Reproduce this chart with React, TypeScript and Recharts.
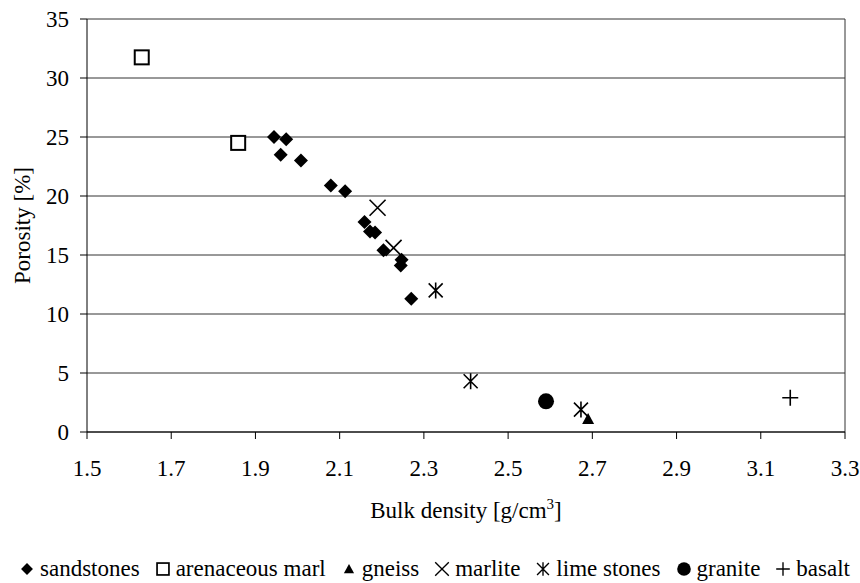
import React from "react";
import {
  ScatterChart,
  Scatter,
  XAxis,
  YAxis,
  CartesianGrid,
  ReferenceLine,
} from "recharts";

type Pt = { x: number; y: number };

const sandstones: Pt[] = [
  { x: 1.944, y: 25.0 },
  { x: 1.973, y: 24.8 },
  { x: 1.96, y: 23.5 },
  { x: 2.008, y: 23.0 },
  { x: 2.079, y: 20.9 },
  { x: 2.113, y: 20.4 },
  { x: 2.159, y: 17.8 },
  { x: 2.172, y: 17.0 },
  { x: 2.184, y: 16.9 },
  { x: 2.204, y: 15.4 },
  { x: 2.247, y: 14.6 },
  { x: 2.245, y: 14.1 },
  { x: 2.27, y: 11.3 },
];
const arenaceousMarl: Pt[] = [
  { x: 1.63, y: 31.75 },
  { x: 1.859, y: 24.5 },
];
const gneiss: Pt[] = [{ x: 2.69, y: 1.1 }];
const marlite: Pt[] = [
  { x: 2.19, y: 19.0 },
  { x: 2.228, y: 15.6 },
];
const limeStones: Pt[] = [
  { x: 2.328, y: 12.0 },
  { x: 2.411, y: 4.3 },
  { x: 2.673, y: 1.9 },
];
const granite: Pt[] = [{ x: 2.59, y: 2.6 }];
const basalt: Pt[] = [{ x: 3.17, y: 2.9 }];

const xTicks = [1.5, 1.7, 1.9, 2.1, 2.3, 2.5, 2.7, 2.9, 3.1, 3.3];
const yTicks = [0, 5, 10, 15, 20, 25, 30, 35];

const FONT = "Liberation Serif";
const FS = 23;

// marker shapes, drawn around cx/cy given by the scatter
const Diamond = ({ cx, cy }: any) => (
  <polygon
    points={`${cx},${cy - 7} ${cx + 7},${cy} ${cx},${cy + 7} ${cx - 7},${cy}`}
    fill="#000"
  />
);
const Square = ({ cx, cy }: any) => (
  <rect x={cx - 7} y={cy - 7} width={14} height={14} fill="#fff" stroke="#000" strokeWidth={2} />
);
const Triangle = ({ cx, cy }: any) => (
  <polygon
    points={`${cx},${cy - 6} ${cx + 6},${cy + 5} ${cx - 6},${cy + 5}`}
    fill="#000"
  />
);
const Cross = ({ cx, cy }: any) => (
  <path
    d={`M${cx - 8},${cy - 8}L${cx + 8},${cy + 8}M${cx + 8},${cy - 8}L${cx - 8},${cy + 8}`}
    stroke="#000"
    strokeWidth={1.6}
  />
);
const Star = ({ cx, cy }: any) => (
  <path
    d={`M${cx - 7},${cy - 7}L${cx + 7},${cy + 7}M${cx + 7},${cy - 7}L${cx - 7},${cy + 7}M${cx},${cy - 8}L${cx},${cy + 8}`}
    stroke="#000"
    strokeWidth={1.6}
  />
);
const Dot = ({ cx, cy }: any) => <circle cx={cx} cy={cy} r={8} fill="#000" />;
const Plus = ({ cx, cy }: any) => (
  <path
    d={`M${cx - 8},${cy}L${cx + 8},${cy}M${cx},${cy - 8}L${cx},${cy + 8}`}
    stroke="#000"
    strokeWidth={1.6}
  />
);

const legendItems = [
  { name: "sandstones", shape: Diamond },
  { name: "arenaceous marl", shape: Square },
  { name: "gneiss", shape: Triangle },
  { name: "marlite", shape: Cross },
  { name: "lime stones", shape: Star },
  { name: "granite", shape: Dot },
  { name: "basalt", shape: Plus },
];

const XTitle = ({ viewBox }: any) => {
  const cx = viewBox.x + viewBox.width / 2;
  return (
    <text x={cx} y={viewBox.y + 86} textAnchor="middle" fontFamily={FONT} fontSize={FS} fill="#000">
      Bulk density [g/cm
      <tspan dy={-9} fontSize={15}>3</tspan>
      <tspan dy={9}>]</tspan>
    </text>
  );
};

const YTitle = ({ viewBox }: any) => {
  const cy = viewBox.y + viewBox.height / 2;
  const x = 14;
  return (
    <text
      x={x}
      y={cy}
      transform={`rotate(-90, ${x}, ${cy})`}
      textAnchor="middle"
      dominantBaseline="central"
      fontFamily={FONT}
      fontSize={FS}
      fill="#000"
    >
      Porosity [%]
    </text>
  );
};

export default function App() {
  const tick = { fill: "#000", fontSize: FS, fontFamily: FONT };
  return (
    <div style={{ position: "relative", width: 860, height: 583, fontFamily: FONT, background: "#fff" }}>
      {/* full-size page box so the right tick label and legend aren't cut */}
      <style>{"html,body{margin:0;overflow:hidden}"}</style>
      <div style={{ position: "absolute", left: 8, top: 8 }}>
        <ScatterChart
          width={852}
          height={575}
          margin={{ top: 11, right: 15, left: 19, bottom: 111 }}
        >
          <CartesianGrid vertical={false} stroke="#333" />
          <XAxis
            type="number"
            dataKey="x"
            domain={[1.5, 3.3]}
            ticks={xTicks}
            tickFormatter={(v: number) => v.toFixed(1)}
            interval={0}
            height={40}
            tickSize={7}
            tickMargin={21}
            tick={tick}
            stroke="#000"
            label={<XTitle />}
          />
          <YAxis
            type="number"
            dataKey="y"
            domain={[0, 35]}
            ticks={yTicks}
            interval={0}
            width={60}
            tickSize={7}
            tickMargin={11}
            tick={tick}
            stroke="#000"
            label={<YTitle />}
          />
          <ReferenceLine x={3.3} stroke="#333" />
          <Scatter name="sandstones" data={sandstones} shape={Diamond} isAnimationActive={false} />
          <Scatter name="arenaceous marl" data={arenaceousMarl} shape={Square} isAnimationActive={false} />
          <Scatter name="gneiss" data={gneiss} shape={Triangle} isAnimationActive={false} />
          <Scatter name="marlite" data={marlite} shape={Cross} isAnimationActive={false} />
          <Scatter name="lime stones" data={limeStones} shape={Star} isAnimationActive={false} />
          <Scatter name="granite" data={granite} shape={Dot} isAnimationActive={false} />
          <Scatter name="basalt" data={basalt} shape={Plus} isAnimationActive={false} />
        </ScatterChart>
      </div>

      {/* legend under the plot, same look as the chart markers */}
      <div
        style={{
          position: "absolute",
          left: 8,
          top: 555,
          width: 852,
          height: 28,
          display: "flex",
          justifyContent: "center",
          alignItems: "center",
          gap: 14,
          fontSize: FS,
          color: "#000",
          whiteSpace: "nowrap",
        }}
      >
        {legendItems.map((item) => {
          const S = item.shape;
          return (
            <span key={item.name} style={{ display: "flex", alignItems: "center", gap: 4 }}>
              <svg width={18} height={18} style={{ overflow: "visible" }}>
                <g transform="translate(9,9) scale(0.85) translate(-9,-9)">
                  <S cx={9} cy={9} />
                </g>
              </svg>
              <span>{item.name}</span>
            </span>
          );
        })}
      </div>
    </div>
  );
}
